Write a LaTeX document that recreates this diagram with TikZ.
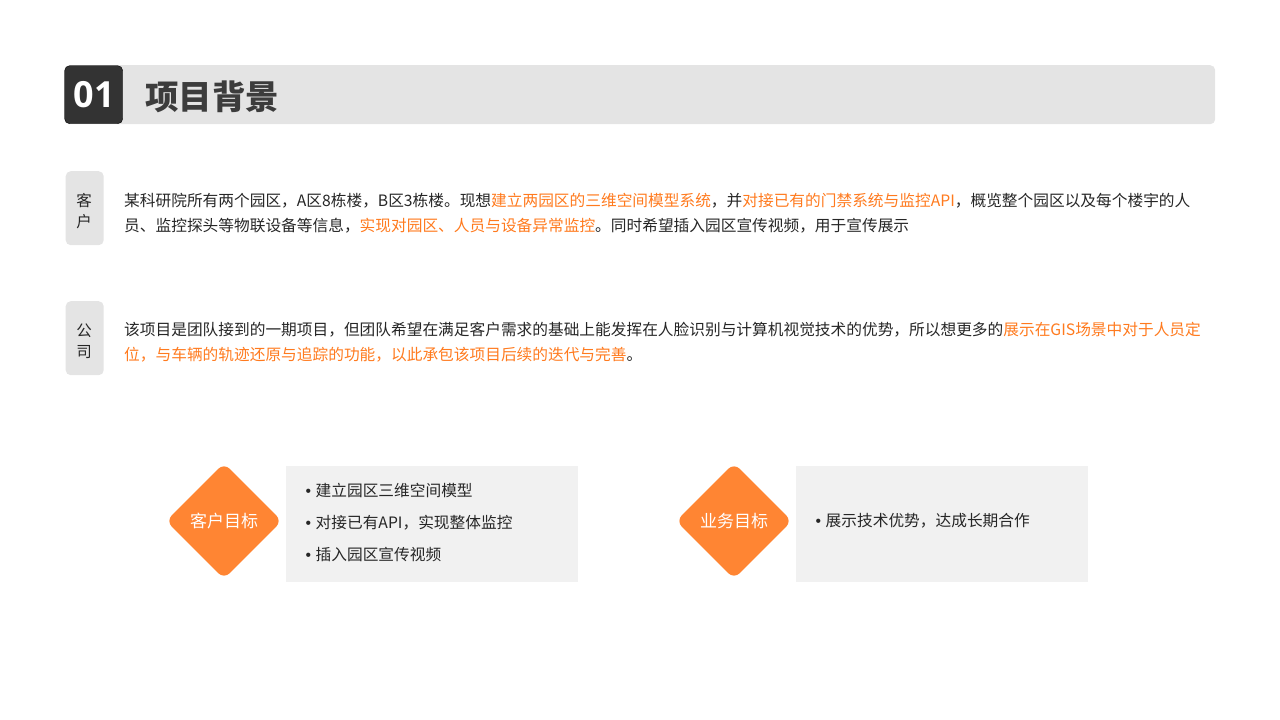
\documentclass[tikz,border=0pt]{standalone}
\usepackage{fontspec}
\usepackage{xcolor}
\setmainfont{Noto Sans CJK SC}
\newfontfamily\bulletfont{Liberation Sans}
\newfontfamily\digitfont{Open Sans}[BoldFont={Open Sans Bold}]
\usetikzlibrary{positioning,shapes.geometric}
\definecolor{barGray}{HTML}{E4E4E4}
\definecolor{boxGray}{HTML}{F1F1F1}
\definecolor{badgeDark}{HTML}{333333}
\definecolor{inkDark}{HTML}{262626}
\definecolor{hiOrange}{HTML}{FF7A1E}
\definecolor{tipOrange}{HTML}{FF8533}
\newcommand{\hi}[1]{\textcolor{hiOrange}{#1}}
\newcommand{\dotitem}{{\bulletfont •}\hspace{4.5pt}}
\tikzset{
	chip/.style={shape=rectangle,fill=barGray,rounded corners=5pt,minimum width=38pt,minimum height=74pt,inner sep=0pt},
	chiptext/.style={font=\fontsize{15.5}{21}\selectfont,text=inkDark,align=center,inner sep=0pt},
	bodyline/.style={font=\fontsize{15.7}{16}\selectfont,text=inkDark,inner sep=0pt,anchor=west},
	goal/.style={shape=diamond,fill=tipOrange,rounded corners=8pt,minimum width=116pt,minimum height=116pt,inner sep=0pt,text=white,font=\fontsize{17}{17}\selectfont},
	goalbox/.style={shape=rectangle,fill=boxGray,minimum width=292pt,minimum height=116pt,inner sep=0pt},
	goalline/.style={font=\fontsize{15.7}{16}\selectfont,text=inkDark,inner sep=0pt,anchor=west}
}
\begin{document}
\begin{tikzpicture}[x=1pt,y=-1pt]
	\useasboundingbox (0,0) rectangle (1280,720);
	\begin{scope}
		% header
		\node(bar) [shape=rectangle,fill=barGray,rounded corners=5pt,minimum width=1151pt,minimum height=59pt,inner sep=0pt,anchor=north west] at (64,65) {};
		\node(badge) [shape=rectangle,fill=badgeDark,draw=black,rounded corners=5pt,minimum width=58pt,minimum height=58pt,inner sep=0pt,anchor=north west,text=white,font=\digitfont\fontsize{36}{36}\bfseries\selectfont] at (64.5,65.5) {\hspace{1pt}01};
		\node(title) [anchor=west,inner sep=0pt,text=inkDark!90,font=\fontsize{33.5}{34}\bfseries\selectfont] at (145,96.5) {项目背景};
		% customer
		\node(chipA) [chip,anchor=north west] at (65.5,171) {};
		\node(chipAtext) [chiptext] at (84,211) {客\\户};
		\node(lineA1) [bodyline] at (124,200.5) {某科研院所有两个园区，A区8栋楼，B区3栋楼。现想\hi{建立两园区的三维空间模型系统}，并\hi{对接已有的门禁系统与监控API}，概览整个园区以及每个楼宇的人};
		\node(lineA2) [bodyline] at (124,225.5) {员、监控探头等物联设备等信息，\hi{实现对园区、人员与设备异常监控}。同时希望插入园区宣传视频，用于宣传展示};
		% company
		\node(chipB) [chip,anchor=north west] at (65.5,301) {};
		\node(chipBtext) [chiptext] at (84,341) {公\\司};
		\node(lineB1) [bodyline] at (124,329.5) {该项目是团队接到的一期项目，但团队希望在满足客户需求的基础上能发挥在人脸识别与计算机视觉技术的优势，所以想更多的\hi{展示在GIS场景中对于人员定}};
		\node(lineB2) [bodyline] at (124,354.5) {\hi{位，与车辆的轨迹还原与追踪的功能，以此承包该项目后续的迭代与完善}。};
		% goals
		\node(goalA) [goal] at (224,521) {客户目标};
		\node(boxA) [goalbox,anchor=north west] at (286,466) {};
		\node(itemA1) [goalline] at (305.5,490.5) {\dotitem 建立园区三维空间模型};
		\node(itemA2) [goalline] at (305.5,522.5) {\dotitem 对接已有API，实现整体监控};
		\node(itemA3) [goalline] at (305.5,554.5) {\dotitem 插入园区宣传视频};
		\node(goalB) [goal] at (734,521) {业务目标};
		\node(boxB) [goalbox,anchor=north west] at (795.5,466) {};
		\node(itemB1) [goalline] at (815.5,521) {\dotitem 展示技术优势，达成长期合作};
	\end{scope}
\end{tikzpicture}
\end{document}
